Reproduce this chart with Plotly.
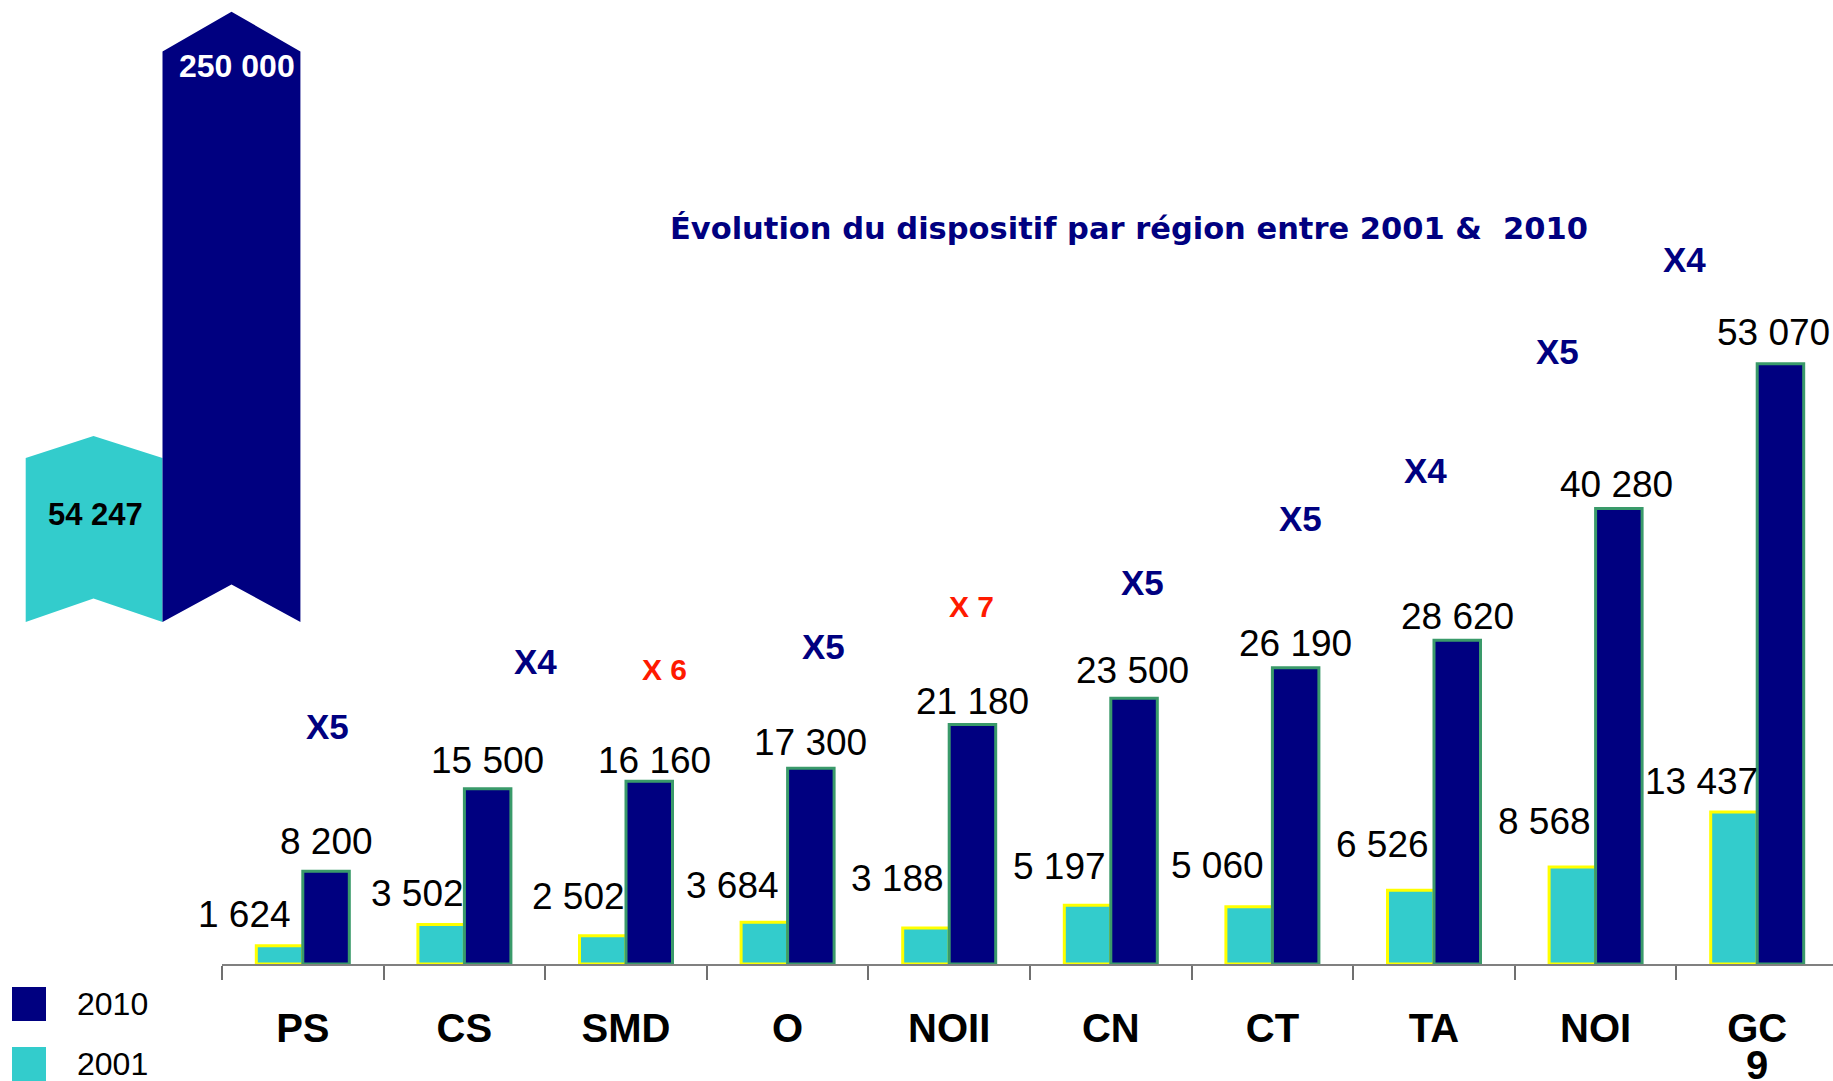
import plotly.graph_objects as go

# ---------------- data ----------------
categories = ["PS", "CS", "SMD", "O", "NOII", "CN", "CT", "TA", "NOI", "GC9"]
tick_labels = ["PS", "CS", "SMD", "O", "NOII", "CN", "CT", "TA", "NOI", "GC"]
tick_label_second_line = {"GC9": "9"}
values_2001 = [1624, 3502, 2502, 3684, 3188, 5197, 5060, 6526, 8568, 13437]
values_2010 = [8200, 15500, 16160, 17300, 21180, 23500, 26190, 28620, 40280, 53070]
growth_labels = ["X5", "X4", "X 6", "X5", "X 7", "X5", "X5", "X4", "X5", "X4"]
series_names = ["2001", "2010"]
total_2001 = 54247
total_2010 = 250000
title_text = "Évolution du dispositif par région entre 2001 &amp;\u00a0 2010"

# ---------------- layout / style ----------------
W, H = 1833, 1081
# plot area, in page pixels
PLOT_L, PLOT_R, PLOT_T, PLOT_B = 222, 1833, 0, 964
PX_PER_UNIT = 0.01131
CAT_W = 161.6
Y_MAX = (PLOT_B - PLOT_T) / PX_PER_UNIT
X_MAX = -0.5 + (PLOT_R - PLOT_L) / CAT_W

NAVY = "#000080"
TEAL = "#33CCCC"
RED = "#FF1A00"
FONT = "Liberation Sans, Arial, sans-serif"

# growth-label placement (category offset, value-axis height)
growth_dx = [0.153, 0.441, 0.238, 0.225, 0.139, 0.199, 0.171, -0.05, -0.236, -0.449]
growth_y = [21043, 26729, 26057, 28073, 31653, 33775, 39434, 43678, 54138, 62308]
# value-label offsets (pixels, relative to bar centre / bar top)
lab01_dx = [-35, -24, -24, -32, -28.5, -28, -32, -28, -28, -32]
lab01_dy = [31, 31, 39, 37, 49, 39, 41, 46, 46, 31]
lab10_dx = [0, 0, 5, 0, 0, -2, 0, 0, -2, -7]
lab10_dy = [30, 28, 21, 26, 23, 28, 24, 24, 24, 31]


def fmt(v):
    return f"{v:,}".replace(",", " ")


def px(x):
    return (x - PLOT_L) / (PLOT_R - PLOT_L)


def py(y):
    return (PLOT_B - y) / (PLOT_B - PLOT_T)


fig = go.Figure()
fig.add_trace(go.Bar(
    name=series_names[0], x=categories, y=values_2001,
    marker=dict(color=TEAL, line=dict(color="#FFFF00", width=3)),
    showlegend=False,
))
fig.add_trace(go.Bar(
    name=series_names[1], x=categories, y=values_2010,
    marker=dict(color=NAVY, line=dict(color="#3A9A6A", width=3)),
    showlegend=False,
))

annotations = []
bar_half = (1 - 0.4245) / 4  # centre offset of each bar within its group
for values, sign, dxs, dys in [(values_2001, -1, lab01_dx, lab01_dy),
                               (values_2010, 1, lab10_dx, lab10_dy)]:
    for i, v in enumerate(values):
        annotations.append(dict(
            x=i + sign * bar_half, y=v, xref="x", yref="y", text=fmt(v),
            showarrow=False, xanchor="center", yanchor="middle",
            xshift=dxs[i], yshift=dys[i],
            font=dict(family=FONT, size=37, color="black"),
        ))
for i, t in enumerate(growth_labels):
    is_red = " " in t
    annotations.append(dict(
        x=i + growth_dx[i], y=growth_y[i], xref="x", yref="y", text=t,
        showarrow=False, xanchor="center", yanchor="middle",
        font=dict(family=FONT, size=30 if is_red else 35,
                  color=RED if is_red else NAVY, weight="bold"),
    ))

# wrapped second line of a category label
for cat, line2 in tick_label_second_line.items():
    annotations.append(dict(
        x=categories.index(cat), y=py(1065), xref="x", yref="paper", text=line2,
        showarrow=False, xanchor="center", yanchor="middle",
        font=dict(family=FONT, size=40, color="black", weight="bold"),
    ))

# title
annotations.append(dict(
    x=px(1129), y=py(228), xref="paper", yref="paper", text=title_text,
    showarrow=False, xanchor="center", yanchor="middle",
    font=dict(family="DejaVu Sans, sans-serif", size=30.5, color=NAVY, weight="bold"),
))

# total chevrons
def poly(points):
    return "M " + " L ".join(f"{px(x):.5f} {py(y):.5f}" for x, y in points) + " Z"

teal_pts = [(25.7, 458), (93.5, 436), (162.5, 458), (162.5, 622), (93.5, 598.5), (25.7, 622)]
navy_pts = [(162.5, 51.4), (231.5, 11.7), (300.4, 51.4), (300.4, 622), (231.5, 584.5), (162.5, 622)]
shapes = [
    dict(type="path", xref="paper", yref="paper", path=poly(teal_pts),
         fillcolor=TEAL, line=dict(width=0)),
    dict(type="path", xref="paper", yref="paper", path=poly(navy_pts),
         fillcolor=NAVY, line=dict(width=0)),
]
annotations.append(dict(
    x=px(237), y=py(66), xref="paper", yref="paper", text=fmt(total_2010),
    showarrow=False, xanchor="center", yanchor="middle",
    font=dict(family=FONT, size=32, color="white", weight="bold"),
))
annotations.append(dict(
    x=px(95), y=py(514), xref="paper", yref="paper", text=fmt(total_2001),
    showarrow=False, xanchor="center", yanchor="middle",
    font=dict(family=FONT, size=31, color="black", weight="bold"),
))

# custom legend
for (name, color, y0) in [(series_names[1], NAVY, 987), (series_names[0], TEAL, 1047)]:
    shapes.append(dict(type="rect", xref="paper", yref="paper",
                       x0=px(12), x1=px(46), y0=py(y0), y1=py(y0 + 34),
                       fillcolor=color, line=dict(width=0)))
    annotations.append(dict(
        x=px(75), y=py(y0 + 17), xref="paper", yref="paper", text=name,
        showarrow=False, xanchor="left", yanchor="middle",
        font=dict(family=FONT, size=32, color="black"),
    ))

fig.update_layout(
    width=W, height=H,
    margin=dict(l=PLOT_L, r=W - PLOT_R, t=PLOT_T, b=H - PLOT_B, pad=0,
                autoexpand=False),
    paper_bgcolor="white", plot_bgcolor="white",
    barmode="group", bargap=0.4245, bargroupgap=0,
    showlegend=False,
    xaxis=dict(
        range=[-0.5, X_MAX], tickmode="array", tickvals=categories, ticktext=tick_labels,
        showline=True, linecolor="#808080", linewidth=2,
        ticks="outside", ticklen=14, tickwidth=2, tickcolor="#707070",
        tickson="boundaries", showgrid=False, zeroline=False, automargin=False,
        tickfont=dict(family=FONT, size=40, color="black", weight="bold"),
        ticklabelstandoff=28,
    ),
    yaxis=dict(range=[0, Y_MAX], visible=False, showgrid=False, zeroline=False,
               automargin=False),
    shapes=shapes,
    annotations=annotations,
)

fig.write_html(
    "out.html",
    config={"displayModeBar": False},
    post_script="document.body.style.margin='0px';document.body.style.overflow='hidden';",
)
